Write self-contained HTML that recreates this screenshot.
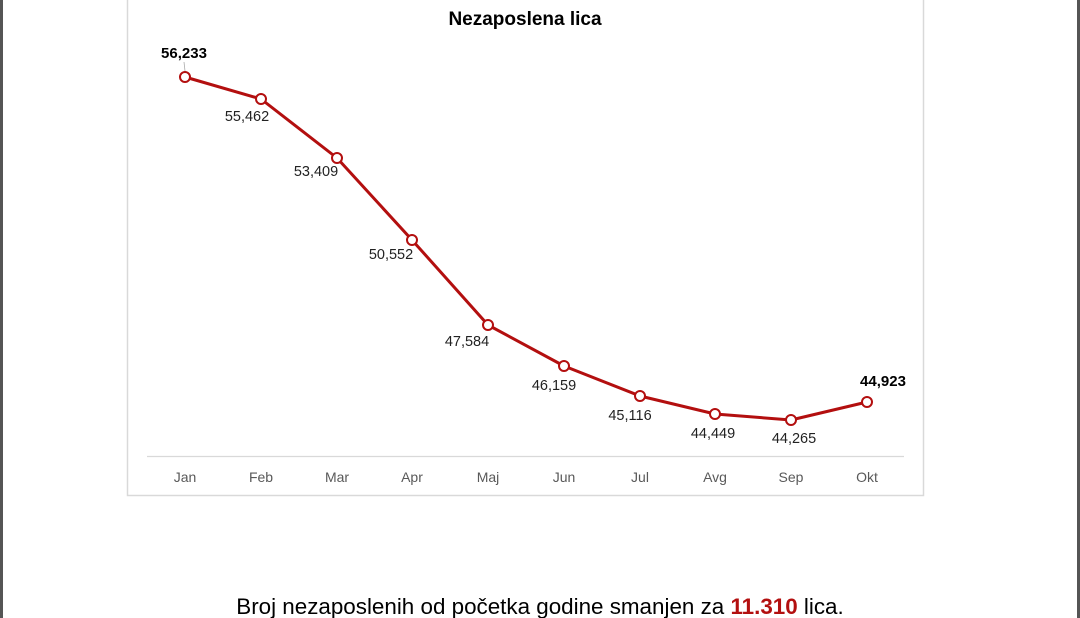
<!DOCTYPE html>
<html><head><meta charset="utf-8"><style>
html,body{margin:0;padding:0;background:#fff;}
body{width:1080px;height:618px;position:relative;overflow:hidden;font-family:"Liberation Sans",sans-serif;}
</style></head><body>
<svg width="1080" height="618" xmlns="http://www.w3.org/2000/svg" style="position:absolute;left:0;top:0">
<rect x="0" y="0" width="3" height="618" fill="#555"/>
<rect x="1077" y="0" width="3" height="618" fill="#555"/>
<rect x="127.5" y="-2" width="796" height="497.5" fill="#fff" stroke="#d9d9d9" stroke-width="1.5"/>
<text x="525" y="25" text-anchor="middle" font-size="19" font-weight="bold" fill="#000">Nezaposlena lica</text>
<line x1="147" y1="456.5" x2="904" y2="456.5" stroke="#d9d9d9" stroke-width="1.2"/>
<g font-size="14" fill="#595959" text-anchor="middle">
<text x="185" y="482">Jan</text><text x="261" y="482">Feb</text><text x="337" y="482">Mar</text><text x="412" y="482">Apr</text><text x="488" y="482">Maj</text><text x="564" y="482">Jun</text><text x="640" y="482">Jul</text><text x="715" y="482">Avg</text><text x="791" y="482">Sep</text><text x="867" y="482">Okt</text>
</g>
<line x1="184" y1="62" x2="185" y2="71" stroke="#aaa" stroke-width="0.8"/>
<polyline fill="none" stroke="#b30f0f" stroke-width="3" stroke-linejoin="round" points="185,77 261,99 337,158 412,240 488,325 564,366 640,396 715,414 791,420 867,402"/>
<g fill="#fff" stroke="#b30f0f" stroke-width="2">
<circle cx="185" cy="77" r="5"/><circle cx="261" cy="99" r="5"/><circle cx="337" cy="158" r="5"/><circle cx="412" cy="240" r="5"/><circle cx="488" cy="325" r="5"/><circle cx="564" cy="366" r="5"/><circle cx="640" cy="396" r="5"/><circle cx="715" cy="414" r="5"/><circle cx="791" cy="420" r="5"/><circle cx="867" cy="402" r="5"/>
</g>
<g font-size="14.5" fill="#222" text-anchor="middle">
<text x="184" y="58" font-weight="bold" font-size="15" fill="#000">56,233</text>
<text x="247" y="121">55,462</text>
<text x="316" y="176">53,409</text>
<text x="391" y="259">50,552</text>
<text x="467" y="346">47,584</text>
<text x="554" y="390">46,159</text>
<text x="630" y="420">45,116</text>
<text x="713" y="438">44,449</text>
<text x="794" y="443">44,265</text>
<text x="883" y="386" font-weight="bold" font-size="15" fill="#000">44,923</text>
</g>
<text x="540" y="614" text-anchor="middle" font-size="22.4" fill="#000">Broj nezaposlenih od početka godine smanjen za <tspan fill="#b30f0f" font-weight="bold">11.310</tspan> lica.</text>
</svg>
</body></html>
